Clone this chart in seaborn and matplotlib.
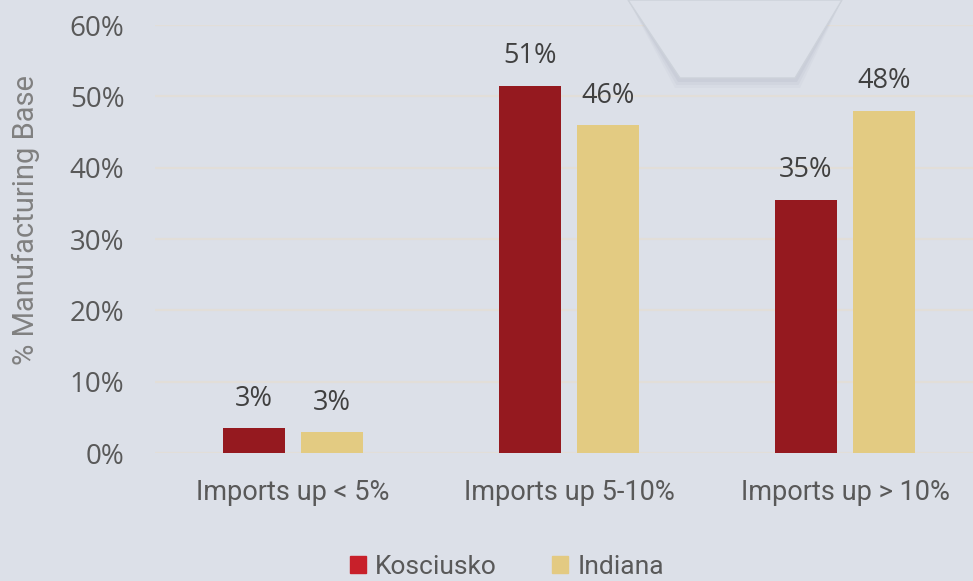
import matplotlib
matplotlib.use("Agg")
import matplotlib.pyplot as plt
from matplotlib import font_manager
from matplotlib.patches import Polygon, Rectangle
import pandas as pd
import seaborn as sns

categories = ["Imports up < 5%", "Imports up 5-10%", "Imports up > 10%"]
kosciusko = [3.5, 51.5, 35.5]
indiana = [2.9, 46.0, 48.0]
kosciusko_labels = ["3%", "51%", "35%"]
indiana_labels = ["3%", "46%", "48%"]
y_ticks = [0, 10, 20, 30, 40, 50, 60]

names = {f.name for f in font_manager.fontManager.ttflist}
narrow = "Liberation Sans Narrow" if "Liberation Sans Narrow" in names else "Roboto"

df = pd.DataFrame({
    "category": categories * 2,
    "value": kosciusko + indiana,
    "series": ["Kosciusko"] * 3 + ["Indiana"] * 3,
})

bg = "#DCE0E8"
sns.set_theme(style="white")
plt.rcParams["font.family"] = ["Open Sans", "DejaVu Sans"]

fig = plt.figure(figsize=(9.73, 5.81), dpi=100, facecolor=bg)
# decorative hexagon piece at the top (soft shadow + face)
for off, a in [(10, 0.06), (7, 0.08), (4, 0.10)]:
    fig.patches.append(Polygon([[628, 581], [842, 581], [795 + off / 2, 503 - off], [680 - off / 2, 503 - off]],
                               closed=True, transform=None, facecolor="#8E97A6",
                               alpha=a, lw=0, zorder=0))
fig.patches.append(Polygon([[628, 581], [842, 581], [795, 503], [680, 503]],
                           closed=True, transform=None, facecolor="#DDE1E9",
                           edgecolor="#CDD2DA", lw=1.0, zorder=0))
ax = fig.add_axes([155 / 973, 1 - 453 / 581, (973 - 155) / 973, (453 - 25) / 581])
ax.set_facecolor("none")

sns.barplot(data=df, x="category", y="value", hue="series", ax=ax,
            palette={"Kosciusko": "#95191F", "Indiana": "#E3CB82"},
            saturation=1, linewidth=0,
            width=0.565, gap=0.2, legend=False, zorder=3)

for cont, labs in zip(ax.containers, [kosciusko_labels, indiana_labels]):
    ax.bar_label(cont, labels=labs, padding=11, fontsize=19.5, color="#404040")

ax.set_ylim(0, 60)
ax.set_xlim(-0.5, 2.464)
ax.set_yticks(y_ticks)
ax.set_yticklabels([f"{t}%" for t in y_ticks], fontsize=20, color="#595959")
ax.tick_params(axis="y", length=0, pad=22)
ax.tick_params(axis="x", length=0, pad=19)
for lab in ax.get_xticklabels():
    lab.set_fontfamily(narrow)
    lab.set_fontsize(19.5)
    lab.set_color("#595959")
ax.grid(axis="y", color="#E2DED8", lw=1.6, zorder=0)
for s in ax.spines.values():
    s.set_visible(False)
ax.set_xlabel("")
ax.set_ylabel("% Manufacturing Base", fontsize=21, color="#808080", family=narrow)
ax.yaxis.set_label_coords(-0.14, 0.545)

# legend at the bottom
handles = [Rectangle((0, 0), 1, 1, color="#C8202A"), Rectangle((0, 0), 1, 1, color="#E3CA82")]
leg = fig.legend(handles, ["Kosciusko", "Indiana"], loc="center",
                 bbox_to_anchor=(507 / 973, 1 - 567 / 581), ncol=2, frameon=False,
                 handlelength=0.6, handleheight=0.6, handletextpad=0.35,
                 columnspacing=2.1, prop={"family": narrow, "size": 19})
for t in leg.get_texts():
    t.set_color("#595959")

fig.savefig("out.png", dpi=100, facecolor=bg)
